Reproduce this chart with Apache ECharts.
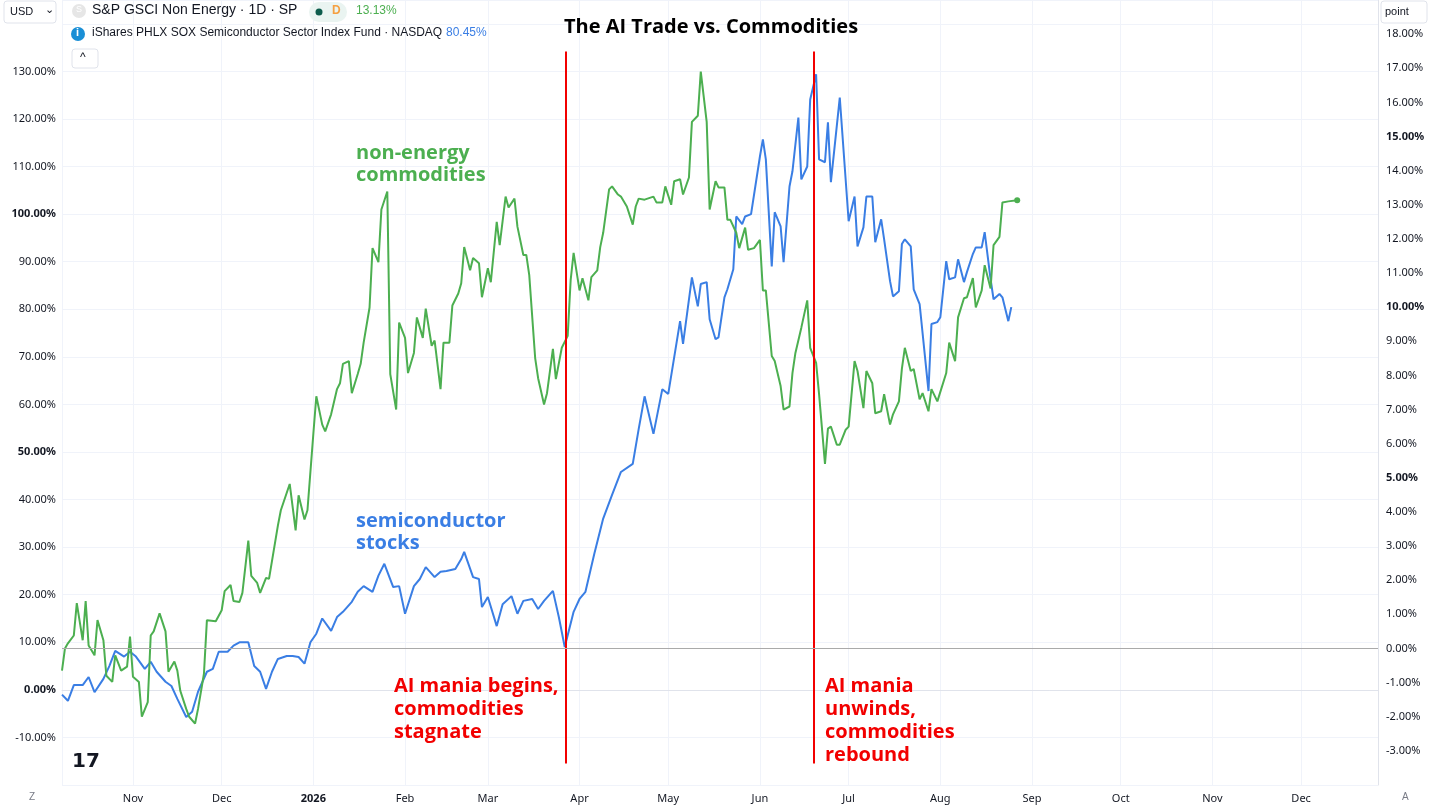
<!DOCTYPE html>
<html lang="en">
<head>
  <meta charset="utf-8">
  <title>The AI Trade vs. Commodities</title>
  <script src="https://cdn.jsdelivr.net/npm/echarts@6/dist/echarts.min.js"></script>
  <style>
    html, body { margin: 0; padding: 0; background: #fff; }
    #main { width: 1431px; height: 809px; }
  </style>
</head>
<body>
  <div id="main"></div>
  <script>
    // day offsets from 2025-10-08 and read values
    var semiDays = [0, 2, 4, 7, 9, 11, 14, 16, 18, 21, 23, 25, 28, 30, 32, 35, 37, 39, 42, 44, 46, 49, 51, 53, 56, 58, 60, 63, 65, 67, 69, 71, 73, 76, 78, 80, 82, 84, 86, 88, 91, 93, 95, 98, 100, 102, 105, 107, 109, 112, 114, 116, 119, 121, 123, 126, 128, 130, 133, 135, 136, 139, 141, 142, 144, 147, 149, 152, 154, 156, 159, 161, 163, 166, 168, 170, 173, 175, 177, 180, 183, 186,
      189, 193, 195, 197, 200, 203, 205, 209, 210, 213, 215, 216, 218, 219, 221, 222, 224, 225, 227, 228, 230, 231, 233, 236, 237, 238, 240, 241, 243, 244, 246, 247, 249, 250, 252, 253, 255, 256, 258, 259, 260, 263, 266, 268, 269, 271, 272, 274, 275, 277, 278, 280, 281, 283, 284, 285, 287, 288, 290, 293, 294, 296, 297, 299, 300, 302, 303, 305, 306, 308, 309, 311, 312, 314, 315, 317, 318, 320, 321];
    var semiVals = [-1, -2.3, 1, 1, 2.7, -0.5, 2.3, 5, 8.2, 7, 8, 7, 4.4, 5.9, 3.8, 1.7, 0.8, -1.9, -5.7, -4.6, -0.4, 3.8, 4.4, 8, 8, 9.3, 10, 10, 5, 3.8, 0.2, 3.8, 6.5, 7.1, 7.1, 6.9, 5.5, 10, 11.8, 15, 12.4, 15.3, 16.4, 18.5, 20.6, 21.8, 20.6, 24, 26.5, 21.6, 21.8, 16, 21.8, 23.3, 25.8, 23.7, 24.8, 25, 25.4, 27.5, 29, 23.7, 23.3, 17.4, 19.5, 13.4, 18, 19.7, 16, 18.7, 19.1, 17, 18.7, 20.8, 15.3, 9, 16.4, 19.1, 20.6, 28.6, 36, 41,
      45.8, 47.5, 54.8, 61.7, 53.8, 63.2, 62.2, 77.5, 72.7, 86.7, 80.6, 85.3, 85.7, 77.9, 73.7, 74.1, 82.5, 84.2, 88.4, 99.5, 97.9, 99.5, 100, 112.1, 115.7, 111.5, 89, 100.4, 97.4, 89.9, 105.8, 109, 120.3, 107.3, 110, 124.1, 129.4, 111.5, 110.9, 119.3, 106.7, 124.5, 98.5, 103.7, 93.2, 97.2, 103.7, 103.7, 94.1, 98.9, 94.7, 85.9, 82.7, 83.8, 93.7, 94.7, 93.2, 84.2, 81.1, 62.8, 76.9, 77.3, 78.3, 90.1, 86.3, 86.7, 90.5, 85.7, 87.8, 91.6, 93, 93, 96.2, 86.3, 82.1, 83.2, 82.5, 77.5, 80.45];

    var commDays = [0, 1, 2, 4, 5, 7, 8, 9, 11, 12, 14, 15, 17, 18, 20, 22, 23, 24, 26, 27, 29, 30, 31, 33, 35, 36, 38, 39, 40, 42, 43, 45, 46, 48, 49, 52, 54, 55, 57, 58, 60, 61, 63, 64, 66, 67, 69, 70, 73, 74, 77, 79, 80, 82, 83, 85, 86, 88, 89,
      91, 93, 94, 95, 97, 98, 100, 101, 102, 104, 105, 107, 108, 110, 111, 113, 114, 116, 117, 119, 120, 122, 123, 125, 126, 128, 129, 131, 132, 134, 135, 136, 138, 139, 141, 142, 144, 145, 147, 148, 150, 151, 153, 154, 156, 157, 158, 160, 161, 163, 164, 166, 167, 169, 171, 172, 173, 175, 176, 178, 179, 181, 182,
      183, 185, 186, 188, 189, 191, 193, 194, 195, 197, 200, 201, 203, 204, 206, 207, 209, 210, 212, 213, 215, 216, 218, 219, 221, 222, 224, 225, 226, 228, 229, 231, 232, 234, 236, 237, 238, 240, 241, 243, 244, 246, 247, 248, 250, 252, 253, 255, 256, 258, 259, 260, 262, 263, 265, 266, 268, 269, 271, 272, 274, 275, 277, 278, 280, 281, 283, 284, 285, 287, 288, 290, 291, 293, 294, 296, 299, 300, 302, 303, 305, 306, 308, 309, 311, 312, 314, 315, 317, 318, 320, 323];
    var commVals = [-0.65, 0, 0.15, 0.38, 1.33, 0.24, 1.39, 0.09, -0.2, 0.83, 0.24, -0.8, -0.98, -0.2, -0.65, -0.53, 0.35, -0.83, -0.98, -2, -1.57, 0.38, 0.5, 1.03, 0.5, -0.68, -0.38, -0.65, -1.24, -1.77, -2, -2.2, -1.77, -0.74, 0.83, 0.8, 1.12, 1.68, 1.86, 1.39, 1.36, 1.63, 3.16, 2.13, 1.92, 1.63, 2.07, 2.04, 3.6, 4.05, 4.82, 3.46, 4.49, 3.78, 4.05, 6.3, 7.39, 6.56, 6.36,
      6.86, 7.6, 7.77, 8.34, 8.42, 7.48, 8.04, 8.34, 8.96, 9.99, 11.73, 11.32, 12.86, 13.39, 8.04, 7, 9.55, 9.1, 8.07, 8.66, 9.7, 9.1, 9.96, 8.87, 9.02, 7.6, 8.96, 8.96, 10.05, 10.4, 10.7, 11.76, 11.08, 11.44, 11.29, 10.29, 11.14, 10.73, 12.5, 11.82, 13.24, 12.92, 13.18, 12.36, 11.53, 11.53, 10.94, 8.51, 7.92, 7.15, 7.48, 8.78, 7.89, 8.81, 9.16, 10.79, 11.59, 10.49, 10.85, 10.2, 10.88, 11.08, 11.76,
      12.18, 13.45, 13.54, 13.3, 13.24, 12.95, 12.42, 12.95, 13.18, 13.15, 13.24, 13.07, 13.07, 13.54, 13.0, 13.69, 13.75, 13.3, 13.8, 15.43, 15.61, 16.9, 15.43, 12.86, 13.69, 13.51, 13.51, 12.56, 12.56, 12.18, 11.73, 12.33, 11.68, 11.73, 11.97, 10.49, 10.49, 8.57, 8.42, 7.69, 7.0, 7.09, 8.07, 8.66, 9.4, 10.2, 8.81, 8.37, 7.45, 5.41, 6.44, 6.5, 5.97, 5.97, 6.41, 6.5, 8.42, 8.13, 7.04, 8.13, 7.77, 6.89, 6.95, 7.45, 6.56, 6.86, 7.24, 8.19, 8.81, 8.13, 8.19, 7.3, 7.48, 6.95, 7.6, 7.24, 8.07, 8.96, 8.42, 9.7, 10.26, 10.29, 10.85, 9.99, 10.49, 11.23, 10.55, 11.82, 12.06, 13.07, 13.1, 13.13];

    var eventDays = [170.5, 254.2]; // red event lines
    var startMs = Date.UTC(2025, 9, 8);
    var dayMs = 86400000;

    function toSeries(days, vals) {
      return days.map(function(d, i) { return [startMs + d * dayMs, vals[i]]; });
    }

    var GREEN = '#4caf50', BLUE = '#3a7ee4', RED = '#f20000';
    var semiData = toSeries(semiDays, semiVals);
    var commData = toSeries(commDays, commVals);
    var lastComm = commData[commData.length - 1];

    var myChart = echarts.init(document.getElementById('main'));

    // text overlays sit above the grid lines
    function txt(left, top, style) {
      return { type: 'text', left: left, top: top, z: 100, style: style };
    }

    var option = {
      animation: false,
      backgroundColor: '#fff',
      textStyle: { fontFamily: 'Noto Sans' },
      grid: { left: 62, right: 53, top: 0, bottom: 24 },
      xAxis: {
        type: 'time',
        min: startMs,
        max: Date.UTC(2026, 11, 27),
        splitNumber: 15,
        axisLine: { show: true, lineStyle: { color: '#e0e3eb' } },
        axisTick: { show: false },
        splitLine: { show: true, lineStyle: { color: '#f0f3fa' } },
        axisLabel: {
          color: '#131722', fontSize: 11, margin: 8,
          formatter: function(v) {
            var d = new Date(v);
            if (d.getUTCDate() !== 1) return '';
            if (d.getUTCMonth() === 0) return '{y|' + d.getUTCFullYear() + '}';
            return ['Jan','Feb','Mar','Apr','May','Jun','Jul','Aug','Sep','Oct','Nov','Dec'][d.getUTCMonth()];
          },
          rich: { y: { fontWeight: 'bold', fontSize: 11, color: '#131722' } }
        }
      },
      yAxis: [{
        type: 'value', position: 'left', min: -20, max: 145, interval: 10,
        axisLine: { show: false }, axisTick: { show: false },
        splitLine: { show: true, lineStyle: { color: '#f0f3fa' } },
        axisLabel: {
          color: '#131722', fontSize: 11, margin: 6,
          formatter: function(v) {
            if (v < -10 || v > 130) return '';
            var s = v.toFixed(2) + '%';
            return v % 50 === 0 ? '{b|' + s + '}' : s;
          },
          rich: { b: { fontWeight: 'bold', fontSize: 11, color: '#131722' } }
        }
      }, {
        type: 'value', position: 'right', min: -4, max: 19, interval: 1,
        axisLine: { show: true, lineStyle: { color: '#e0e3eb' } }, axisTick: { show: false },
        splitLine: { show: false },
        axisLabel: {
          color: '#131722', fontSize: 11, margin: 8,
          formatter: function(v) {
            if (v < -3 || v > 18) return '';
            var s = v.toFixed(2) + '%';
            return v % 5 === 0 && v !== 0 ? '{b|' + s + '}' : s;
          },
          rich: { b: { fontWeight: 'bold', fontSize: 11, color: '#131722' } }
        }
      }],
      series: [{
        name: 'iShares PHLX SOX Semiconductor Sector Index Fund',
        type: 'line', yAxisIndex: 0, data: semiData,
        showSymbol: false, lineStyle: { color: BLUE, width: 2 }, itemStyle: { color: BLUE },
        markLine: {
          silent: true, symbol: 'none', label: { show: false },
          lineStyle: { color: RED, width: 2, type: 'solid' },
          data: eventDays.map(function(d) {
            return [{ coord: [startMs + d * dayMs, 134.2] }, { coord: [startMs + d * dayMs, -15.5] }];
          })
        }
      }, {
        name: 'S&P GSCI Non Energy',
        type: 'line', yAxisIndex: 1, data: commData,
        showSymbol: false, lineStyle: { color: GREEN, width: 2 }, itemStyle: { color: GREEN },
        z: 3,
        markLine: {
          silent: true, symbol: 'none', label: { show: false },
          lineStyle: { color: '#aaaaaa', width: 1, type: 'solid' },
          data: [{ yAxis: 0 }]
        },
        markPoint: {
          symbol: 'circle', symbolSize: 6, label: { show: false },
          itemStyle: { color: GREEN },
          data: [{ coord: lastComm }]
        }
      }],
      graphic: [
        // header legend
        { type: 'rect', z: 100, shape: { x: 4, y: 1, width: 52, height: 22, r: 3 }, style: { fill: '#fff', stroke: '#e0e3eb' } },
        txt(10, 6, { text: 'USD', fontSize: 11, fill: '#131722' }),
        txt(45, 4, { text: '⌄', fontSize: 11, fill: '#131722' }),
        { type: 'circle', z: 100, shape: { cx: 79, cy: 11, r: 7 }, style: { fill: '#e6e6e6' } },
        txt(76, 5, { text: 'S', fontSize: 9, fill: '#fff' }),
        txt(92, 3, { text: 'S&P GSCI Non Energy · 1D · SP', fontSize: 14, fill: '#131722' }),
        { type: 'rect', z: 100, shape: { x: 309, y: 2, width: 38, height: 20, r: 10 }, style: { fill: '#eaf4f1' } },
        { type: 'circle', z: 101, shape: { cx: 319, cy: 12, r: 3.5 }, style: { fill: '#0d5c4c' } },
        txt(332, 5, { text: 'D', fontSize: 12, fill: '#f5a042', fontWeight: 'bold' }),
        txt(356, 5, { text: '13.13%', fontSize: 12, fill: GREEN }),
        { type: 'circle', z: 100, shape: { cx: 78, cy: 34, r: 7 }, style: { fill: '#1a8fd6' } },
        txt(76, 27, { text: 'i', fontSize: 11, fill: '#fff', fontWeight: 'bold' }),
        txt(92, 27, { text: 'iShares PHLX SOX Semiconductor Sector Index Fund · NASDAQ', fontSize: 12, fill: '#131722' }),
        txt(446, 27, { text: '80.45%', fontSize: 12, fill: BLUE }),
        { type: 'rect', z: 100, shape: { x: 72, y: 49, width: 26, height: 19, r: 3 }, style: { fill: '#fff', stroke: '#e0e3eb' } },
        txt(80, 52, { text: '^', fontSize: 12, fill: '#131722' }),
        { type: 'rect', z: 100, shape: { x: 1381, y: 1, width: 46, height: 22, r: 3 }, style: { fill: '#fff', stroke: '#e0e3eb' } },
        txt(1385, 6, { text: 'point', fontSize: 11, fill: '#131722' }),
        // title
        txt(564, 17, { text: 'The AI Trade vs. Commodities', fontSize: 20, fontWeight: 'bold', fill: '#000', fontFamily: 'Open Sans' }),
        // series labels
        txt(356, 142, { text: 'non-energy\ncommodities', fontSize: 20, lineHeight: 22, fontWeight: 'bold', fill: GREEN, fontFamily: 'Open Sans' }),
        txt(356, 510, { text: 'semiconductor\nstocks', fontSize: 20, lineHeight: 22, fontWeight: 'bold', fill: BLUE, fontFamily: 'Open Sans' }),
        // event notes
        txt(394, 675, { text: 'AI mania begins,\ncommodities\nstagnate', fontSize: 20, lineHeight: 23, fontWeight: 'bold', fill: RED, fontFamily: 'Open Sans' }),
        txt(825, 675, { text: 'AI mania\nunwinds,\ncommodities\nrebound', fontSize: 20, lineHeight: 23, fontWeight: 'bold', fill: RED, fontFamily: 'Open Sans' }),
        // logo and corner marks
        txt(72, 752, { text: '17', fontSize: 20, fontWeight: 'bold', fill: '#131722', fontFamily: 'DejaVu Sans' }),
        txt(29, 792, { text: 'Z', fontSize: 10, fill: '#787b86' }),
        txt(1402, 792, { text: 'A', fontSize: 10, fill: '#787b86' })
      ]
    };

    myChart.setOption(option);
  </script>
</body>
</html>
